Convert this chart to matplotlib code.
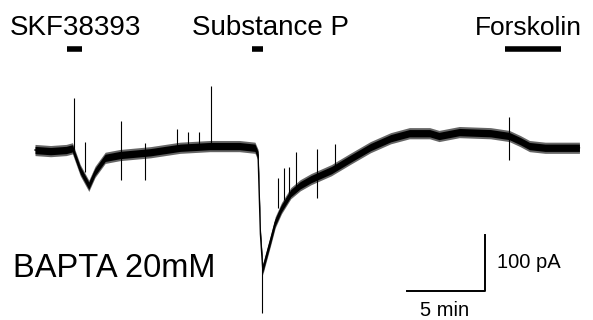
import matplotlib
matplotlib.use("Agg")
import matplotlib.pyplot as plt
import numpy as np

plt.rcParams['font.family'] = ['Liberation Sans', 'DejaVu Sans']

# Whole-cell current trace (time in min, current in pA)
trace_t = [0.0, 1.0, 2.0, 2.4, 2.9, 3.45, 3.85, 4.5, 5.45, 7.4, 9.3, 11.2, 13.1,
           14.1, 14.3, 14.45, 14.6, 14.75, 15.1, 15.4, 15.8, 16.4, 17.0, 17.7,
           19.0, 20.2, 21.5, 22.8, 24.0, 25.3, 25.9, 27.2, 29.2, 30.4, 31.1,
           31.7, 32.7, 34.9]
trace_i = [0, -2, 0, 3, -36, -64, -39, -14, -9, -4, 4, 7, 7,
           4, -9, -150, -213, -197, -161, -129, -104, -77, -63, -52,
           -36, -16, 5, 21, 30, 30, 25, 32, 30, 25, 16,
           7, 4, 4]
noise_core = 6.5  # pA, half-width of the dense part of the noise band
noise_edge = 10   # pA, half-width of the ragged outer edge

# Brief transients: time, top, bottom (pA)
spike_t = [2.5, 3.2, 5.5, 7.05, 9.1, 9.8, 10.5, 11.3, 14.55, 15.6, 15.95,
           16.3, 16.7, 18.1, 19.2, 30.4]
spike_top = [93, 14, 52, 12, 38, 32, 32, 114, -200, -50, -32,
             -30, -4, 2, 11, 59]
spike_bot = [0, -40, -54, -54, 0, 2, 4, 8, -291, -104, -89,
             -80, -70, -86, -32, -18]

# Drug applications (min)
drugs = ["SKF38393", "Substance P", "Forskolin"]
drug_on = [2.05, 13.9, 30.1]
drug_off = [3.0, 14.6, 33.7]

fig = plt.figure(figsize=(5.93, 3.2), dpi=100)
ax = fig.add_axes([0, 0, 1, 1])
ax.set_xlim(-2.244, 35.77)
ax.set_ylim(-303.6, 267.9)
ax.axis('off')

t = np.array(trace_t)
i = np.array(trace_i)
ax.fill_between(t, i - noise_edge, i + noise_edge, color='black', alpha=0.6, lw=0)
ax.fill_between(t, i - noise_core, i + noise_core, color='black', lw=0)
ax.plot(t, i, color='black', lw=1.0)
ax.vlines(spike_t, spike_bot, spike_top, color='black', lw=0.8)

# drug bars + labels
for name, a, b in zip(drugs, drug_on, drug_off):
    ax.plot([a, b], [179.5, 179.5], color='black', lw=4.0, solid_capstyle='butt')
fig.text(10 / 593, 1 - 35 / 320, drugs[0], fontsize=20, va='baseline', ha='left')
fig.text(192 / 593, 1 - 35 / 320, drugs[1], fontsize=20, va='baseline', ha='left')
fig.text(582 / 593, 1 - 35 / 320, drugs[2], fontsize=19, va='baseline', ha='right')

# scale bars: 5 min, 100 pA
sx, sy = 23.85, -251.8
ax.plot([sx, sx + 5, sx + 5], [sy, sy, sy + 100], color='black', lw=1.4)
fig.text(497 / 593, 1 - 268 / 320, "100 pA", fontsize=14.5, va='baseline', ha='left')
fig.text(445 / 593, 1 - 316 / 320, "5 min", fontsize=14.5, va='baseline', ha='center')

fig.text(13 / 593, 1 - 277 / 320, "BAPTA 20mM", fontsize=23.5, va='baseline', ha='left')

plt.savefig('out.png', dpi=100)
plt.close(fig)
